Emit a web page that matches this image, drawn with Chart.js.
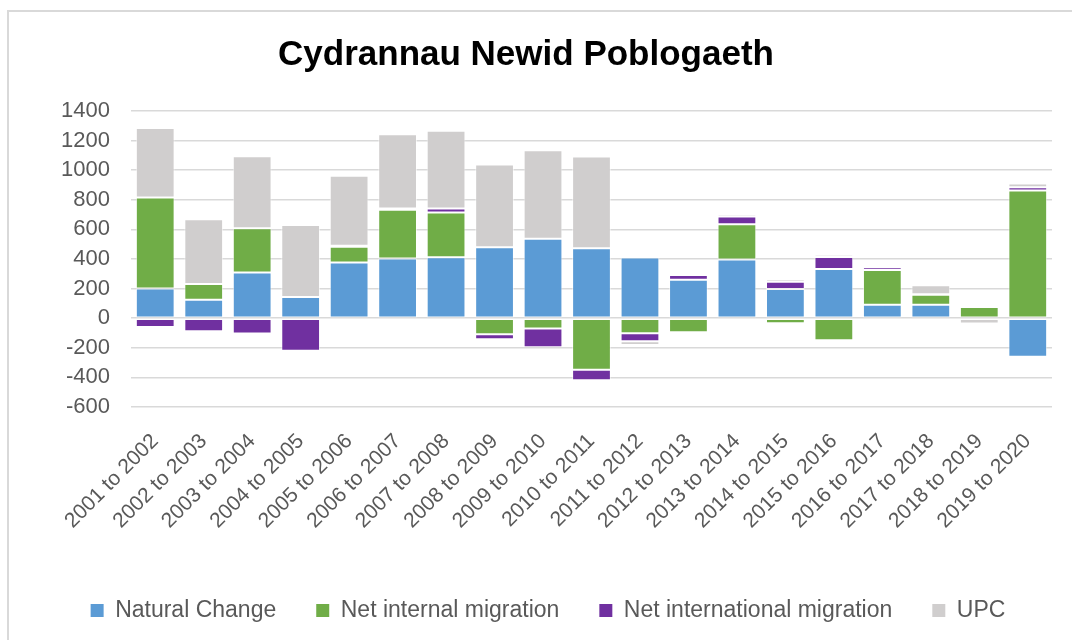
<!DOCTYPE html>
<html>
<head>
<meta charset="utf-8">
<script src="https://cdn.jsdelivr.net/npm/chart.js@4.4.1/dist/chart.umd.min.js"></script>
<style>
  html, body { margin: 0; padding: 0; background: #ffffff; overflow: hidden; }
  #frame { position: absolute; left: 7px; top: 10px; width: 1100px; height: 700px; border: 2px solid #d9d9d9; box-sizing: border-box; }
  #wrap { position: absolute; left: 0; top: 0; width: 1072px; height: 640px; }
</style>
</head>
<body>
<div id="frame"></div>
<div id="wrap"><canvas id="c" width="1072" height="640"></canvas></div>
<script>
const categories = ["2001 to 2002","2002 to 2003","2003 to 2004","2004 to 2005","2005 to 2006","2006 to 2007","2007 to 2008","2008 to 2009","2009 to 2010","2010 to 2011","2011 to 2012","2012 to 2013","2013 to 2014","2014 to 2015","2015 to 2016","2016 to 2017","2017 to 2018","2018 to 2019","2019 to 2020"];
const naturalChange = [200,124,308,143,376,403,412,480,536,473,410,260,396,197,333,91,91,0,-260];
const netInternal = [615,107,299,0,106,330,303,-109,-70,-349,-102,-95,238,-34,-149,235,67,75,862];
const netInternational = [-60,-88,-104,-220,8,9,27,-34,-127,-70,-54,32,54,50,81,18,3,13,23];
const upc = [470,437,487,486,472,501,525,559,598,620,-25,13,14,16,14,4,62,-36,25];
const seriesNames = ["Natural Change","Net internal migration","Net international migration","UPC"];
const seriesColors = ["#5B9BD5","#70AD47","#7030A0","#D0CECE"];
const yMin = -600, yMax = 1400, yStep = 200;

const seriesValues = [naturalChange, netInternal, netInternational, upc];
const datasets = seriesValues.map((vals, i) => ({
  label: seriesNames[i],
  data: vals,
  backgroundColor: seriesColors[i],
  borderColor: "rgba(255,255,255,0.55)",
  borderWidth: 1,
  borderSkipped: false,
  categoryPercentage: 1.0,
  barPercentage: 0.8
}));

const shiftPlugin = {
  id: "shiftBoxes",
  afterLayout(chart) {
    if (chart.titleBlock) { chart.titleBlock.left -= 22; chart.titleBlock.right -= 22; }
  }
};

new Chart(document.getElementById("c"), {
  type: "bar",
  data: { labels: categories, datasets },
  plugins: [shiftPlugin],
  options: {
    responsive: false,
    animation: false,
    devicePixelRatio: 1,
    layout: { padding: { left: 44, right: 20, top: 0, bottom: 8 } },
    plugins: {
      title: {
        display: true,
        text: "Cydrannau Newid Poblogaeth",
        color: "#000000",
        font: { family: "'Liberation Sans', Arial, sans-serif", size: 35, weight: "bold" },
        padding: { top: 34, bottom: 35 }
      },
      legend: {
        position: "bottom",
        labels: {
          color: "#595959",
          font: { family: "'Liberation Sans', Arial, sans-serif", size: 23 },
          boxWidth: 13,
          boxHeight: 13,
          padding: 40,
          generateLabels(chart) {
            const items = Chart.defaults.plugins.legend.labels.generateLabels(chart);
            items.forEach(it => { it.lineWidth = 0; it.strokeStyle = "rgba(0,0,0,0)"; });
            return items;
          }
        }
      },
      tooltip: { enabled: false }
    },
    scales: {
      x: {
        stacked: true,
        grid: { display: false, drawTicks: false },
        border: { display: false },
        ticks: {
          color: "#595959",
          font: { family: "'Liberation Sans', Arial, sans-serif", size: 21 },
          minRotation: 45,
          maxRotation: 45,
          autoSkip: false,
          padding: 22
        },
        afterFit(scale) { scale.height = 152; }
      },
      y: {
        stacked: true,
        min: yMin,
        max: yMax,
        grid: { color: "#d9d9d9", lineWidth: 1.5, drawTicks: false },
        border: { display: false },
        ticks: {
          stepSize: yStep,
          autoSkip: false,
          color: "#595959",
          font: { family: "'Liberation Sans', Arial, sans-serif", size: 22 },
          padding: 21,
          callback: (v) => String(v)
        },
        afterFit(scale) { scale.width = 87; }
      }
    }
  }
});
</script>
</body>
</html>
